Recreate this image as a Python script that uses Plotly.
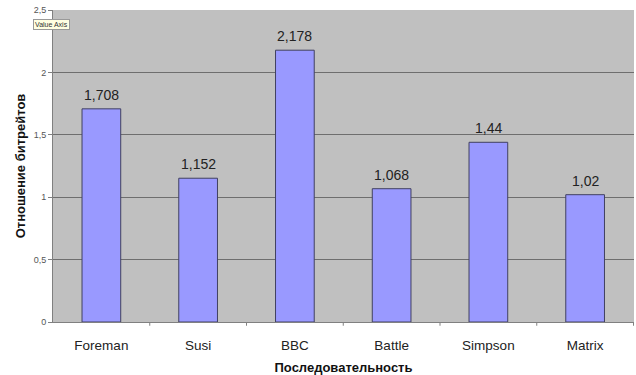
import plotly.graph_objects as go

sequences = ["Foreman", "Susi", "BBC", "Battle", "Simpson", "Matrix"]
bitrate_ratio = [1.708, 1.152, 2.178, 1.068, 1.44, 1.02]
ratio_labels = ["1,708", "1,152", "2,178", "1,068", "1,44", "1,02"]
y_ticks = [0, 0.5, 1, 1.5, 2, 2.5]
y_tick_labels = ["0", "0,5", "1", "1,5", "2", "2,5"]

FONT = "Liberation Sans, Arial, sans-serif"

fig = go.Figure()
fig.add_trace(go.Bar(
    x=sequences,
    y=bitrate_ratio,
    marker=dict(color="#9999ff", line=dict(color="#404060", width=1)),
    hoverinfo="skip",
))

# value labels above each bar
for name, val, lab in zip(sequences, bitrate_ratio, ratio_labels):
    fig.add_annotation(x=name, y=val, text=lab, showarrow=False,
                       yanchor="middle", yshift=14,
                       font=dict(family=FONT, size=14, color="#222222"))

fig.update_layout(
    width=636, height=375,
    margin=dict(l=53, r=2, t=10, b=53),
    paper_bgcolor="white",
    plot_bgcolor="#c0c0c0",
    bargap=0.6,
    showlegend=False,
    font=dict(family=FONT),
    xaxis=dict(
        title=dict(text="<b>Последовательность</b>", font=dict(size=13, color="#111111"), standoff=10),
        tickfont=dict(size=13.5, color="#222222"),
        ticklabelstandoff=11,
        showline=True, linecolor="#808080", linewidth=1,
        ticks="", showgrid=False,
    ),
    yaxis=dict(
        title=dict(text="<b>Отношение битрейтов</b>", font=dict(size=13, color="#111111"), standoff=5),
        range=[0, 2.5],
        tickvals=y_ticks, ticktext=y_tick_labels,
        tickfont=dict(size=9, color="#555555"),
        showline=True, linecolor="#808080", linewidth=1,
        ticks="outside", ticklen=4, tickcolor="#808080",
        showgrid=True, gridcolor="#6e6e6e", gridwidth=1,
        zeroline=False,
    ),
)

# category boundary tick marks under the x axis
for i in range(1, len(sequences) + 1):
    fig.add_shape(type="line", xref="x", yref="paper",
                  x0=i - 0.5, x1=i - 0.5, y0=0, y1=-0.012,
                  line=dict(color="#808080", width=1))

fig.add_annotation(
    x=0, y=0.955, xref="paper", yref="paper", xanchor="left", yanchor="middle",
    xshift=-20, text="Value Axis", showarrow=False,
    font=dict(family=FONT, size=7, color="#333333"),
    bgcolor="#ffffe1", bordercolor="#999999", borderwidth=1, borderpad=1,
)

fig.write_html("out.html")
